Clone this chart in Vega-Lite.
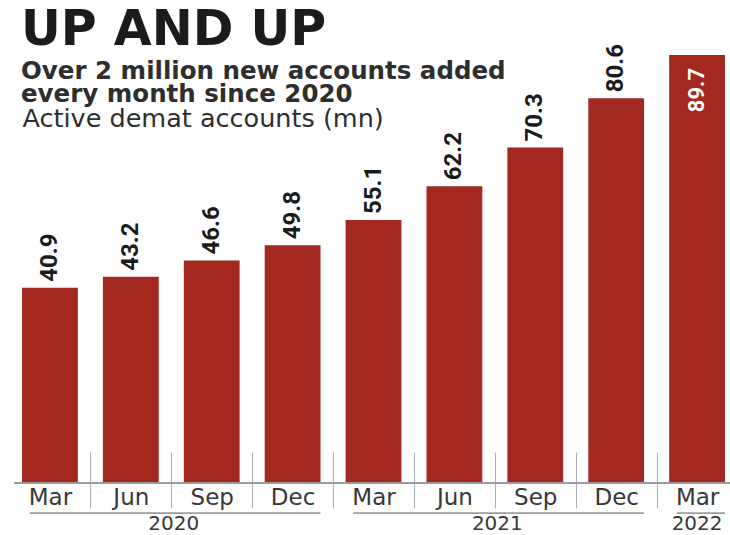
{
  "$schema": "https://vega.github.io/schema/vega-lite/v6.json",
  "autosize": "none",
  "width": 719,
  "height": 440,
  "padding": {"left": 14, "top": 43, "right": 0, "bottom": 52},
  "background": "white",
  "config": {"view": {"stroke": null}},
  "title": {
    "text": "UP AND UP",
    "subtitle": ["Over 2 million new accounts added", "every month since 2020"],
    "anchor": "start",
    "frame": "group",
    "offset": -63,
    "dx": 7,
    "font": "DejaVu Sans",
    "fontSize": 49,
    "fontWeight": "bold",
    "color": "#1b1b1b",
    "subtitleFont": "DejaVu Sans",
    "subtitleFontSize": 24.5,
    "subtitleFontWeight": "bold",
    "subtitleColor": "#2e2e2e",
    "subtitleLineHeight": 23,
    "subtitlePadding": 5
  },
  "datasets": {
    "months": [
      {"period": "Mar 2020", "value": 40.9},
      {"period": "Jun 2020", "value": 43.2},
      {"period": "Sep 2020", "value": 46.6},
      {"period": "Dec 2020", "value": 49.8},
      {"period": "Mar 2021", "value": 55.1},
      {"period": "Jun 2021", "value": 62.2},
      {"period": "Sep 2021", "value": 70.3},
      {"period": "Dec 2021", "value": 80.6},
      {"period": "Mar 2022", "value": 89.7}
    ],
    "years": [
      {"year": "2020", "start": "Mar 2020", "end": "Dec 2020", "mid": "Sep 2020"},
      {"year": "2021", "start": "Mar 2021", "end": "Dec 2021", "mid": "Sep 2021"},
      {"year": "2022", "start": "Mar 2022", "end": "Mar 2022", "mid": "Mar 2022"}
    ]
  },
  "layer": [
    {
      "data": {"name": "months"},
      "mark": {"type": "bar", "color": "#a3281f"},
      "encoding": {
        "x": {
          "field": "period",
          "type": "ordinal",
          "sort": null,
          "scale": {"paddingInner": 0.31, "paddingOuter": 0.099},
          "axis": {
            "title": null,
            "offset": -31,
            "labelExpr": "slice(datum.value, 0, 3)",
            "labelAngle": 0,
            "labelFont": "DejaVu Sans",
            "labelFontSize": 23,
            "labelColor": "#383838",
            "labelBaseline": "middle",
            "labelPadding": -11,
            "labelOffset": 40.45,
            "domain": false,
            "ticks": true,
            "tickOffset": -40.45,
            "tickSize": 56,
            "tickColor": "#aab0b8",
            "tickWidth": 1,
            "tickOpacity": {"condition": {"test": "datum.value === 'Mar 2020'", "value": 0}, "value": 1},
            "grid": false
          }
        },
        "y": {
          "field": "value",
          "type": "quantitative",
          "scale": {"domain": [0, 92.2], "nice": false},
          "axis": {
            "title": "Active demat accounts (mn)",
            "titleAngle": 0,
            "titleAlign": "left",
            "titleBaseline": "alphabetic",
            "titleX": 8,
            "titleY": 83,
            "titleFont": "DejaVu Sans",
            "titleFontSize": 25.5,
            "titleFontWeight": "normal",
            "titleColor": "#2e2e2e",
            "labels": false,
            "ticks": false,
            "domain": false,
            "grid": false
          }
        }
      }
    },
    {
      "data": {"name": "months"},
      "mark": {"type": "rule", "color": "#9a9a9a", "strokeWidth": 1},
      "encoding": {"y": {"datum": 0}}
    },
    {
      "data": {"name": "months"},
      "transform": [{"filter": "datum.value < 85"}],
      "mark": {"type": "text", "angle": 270, "align": "left", "baseline": "middle", "dx": 6, "font": "Roboto", "fontSize": 24, "fontWeight": "bold", "color": "#1b1b1b"},
      "encoding": {
        "x": {"field": "period", "type": "ordinal", "sort": null},
        "y": {"field": "value", "type": "quantitative"},
        "text": {"field": "value", "type": "quantitative", "format": ".1f"}
      }
    },
    {
      "data": {"name": "months"},
      "transform": [{"filter": "datum.value >= 85"}],
      "mark": {"type": "text", "angle": 270, "align": "right", "baseline": "middle", "dx": -13, "font": "Roboto", "fontSize": 22, "fontWeight": "bold", "color": "white"},
      "encoding": {
        "x": {"field": "period", "type": "ordinal", "sort": null},
        "y": {"field": "value", "type": "quantitative"},
        "text": {"field": "value", "type": "quantitative", "format": ".1f"}
      }
    },
    {
      "data": {"name": "years"},
      "mark": {"type": "rule", "color": "#555555", "strokeWidth": 1},
      "encoding": {
        "x": {"field": "start", "type": "ordinal", "sort": null, "bandPosition": 0.14},
        "x2": {"field": "end", "bandPosition": 1},
        "y": {"datum": -6.3}
      }
    },
    {
      "data": {"name": "years"},
      "transform": [{"filter": "datum.year != '2022'"}],
      "mark": {"type": "text", "align": "center", "baseline": "middle", "font": "DejaVu Sans", "fontSize": 20, "color": "#383838"},
      "encoding": {
        "x": {"field": "mid", "type": "ordinal", "sort": null, "bandPosition": -0.18},
        "y": {"datum": -8.5},
        "text": {"field": "year"}
      }
    },
    {
      "data": {"name": "years"},
      "transform": [{"filter": "datum.year == '2022'"}],
      "mark": {"type": "text", "align": "center", "baseline": "middle", "font": "DejaVu Sans", "fontSize": 20, "color": "#383838"},
      "encoding": {
        "x": {"field": "mid", "type": "ordinal", "sort": null, "bandPosition": 0.5},
        "y": {"datum": -8.5},
        "text": {"field": "year"}
      }
    }
  ]
}
